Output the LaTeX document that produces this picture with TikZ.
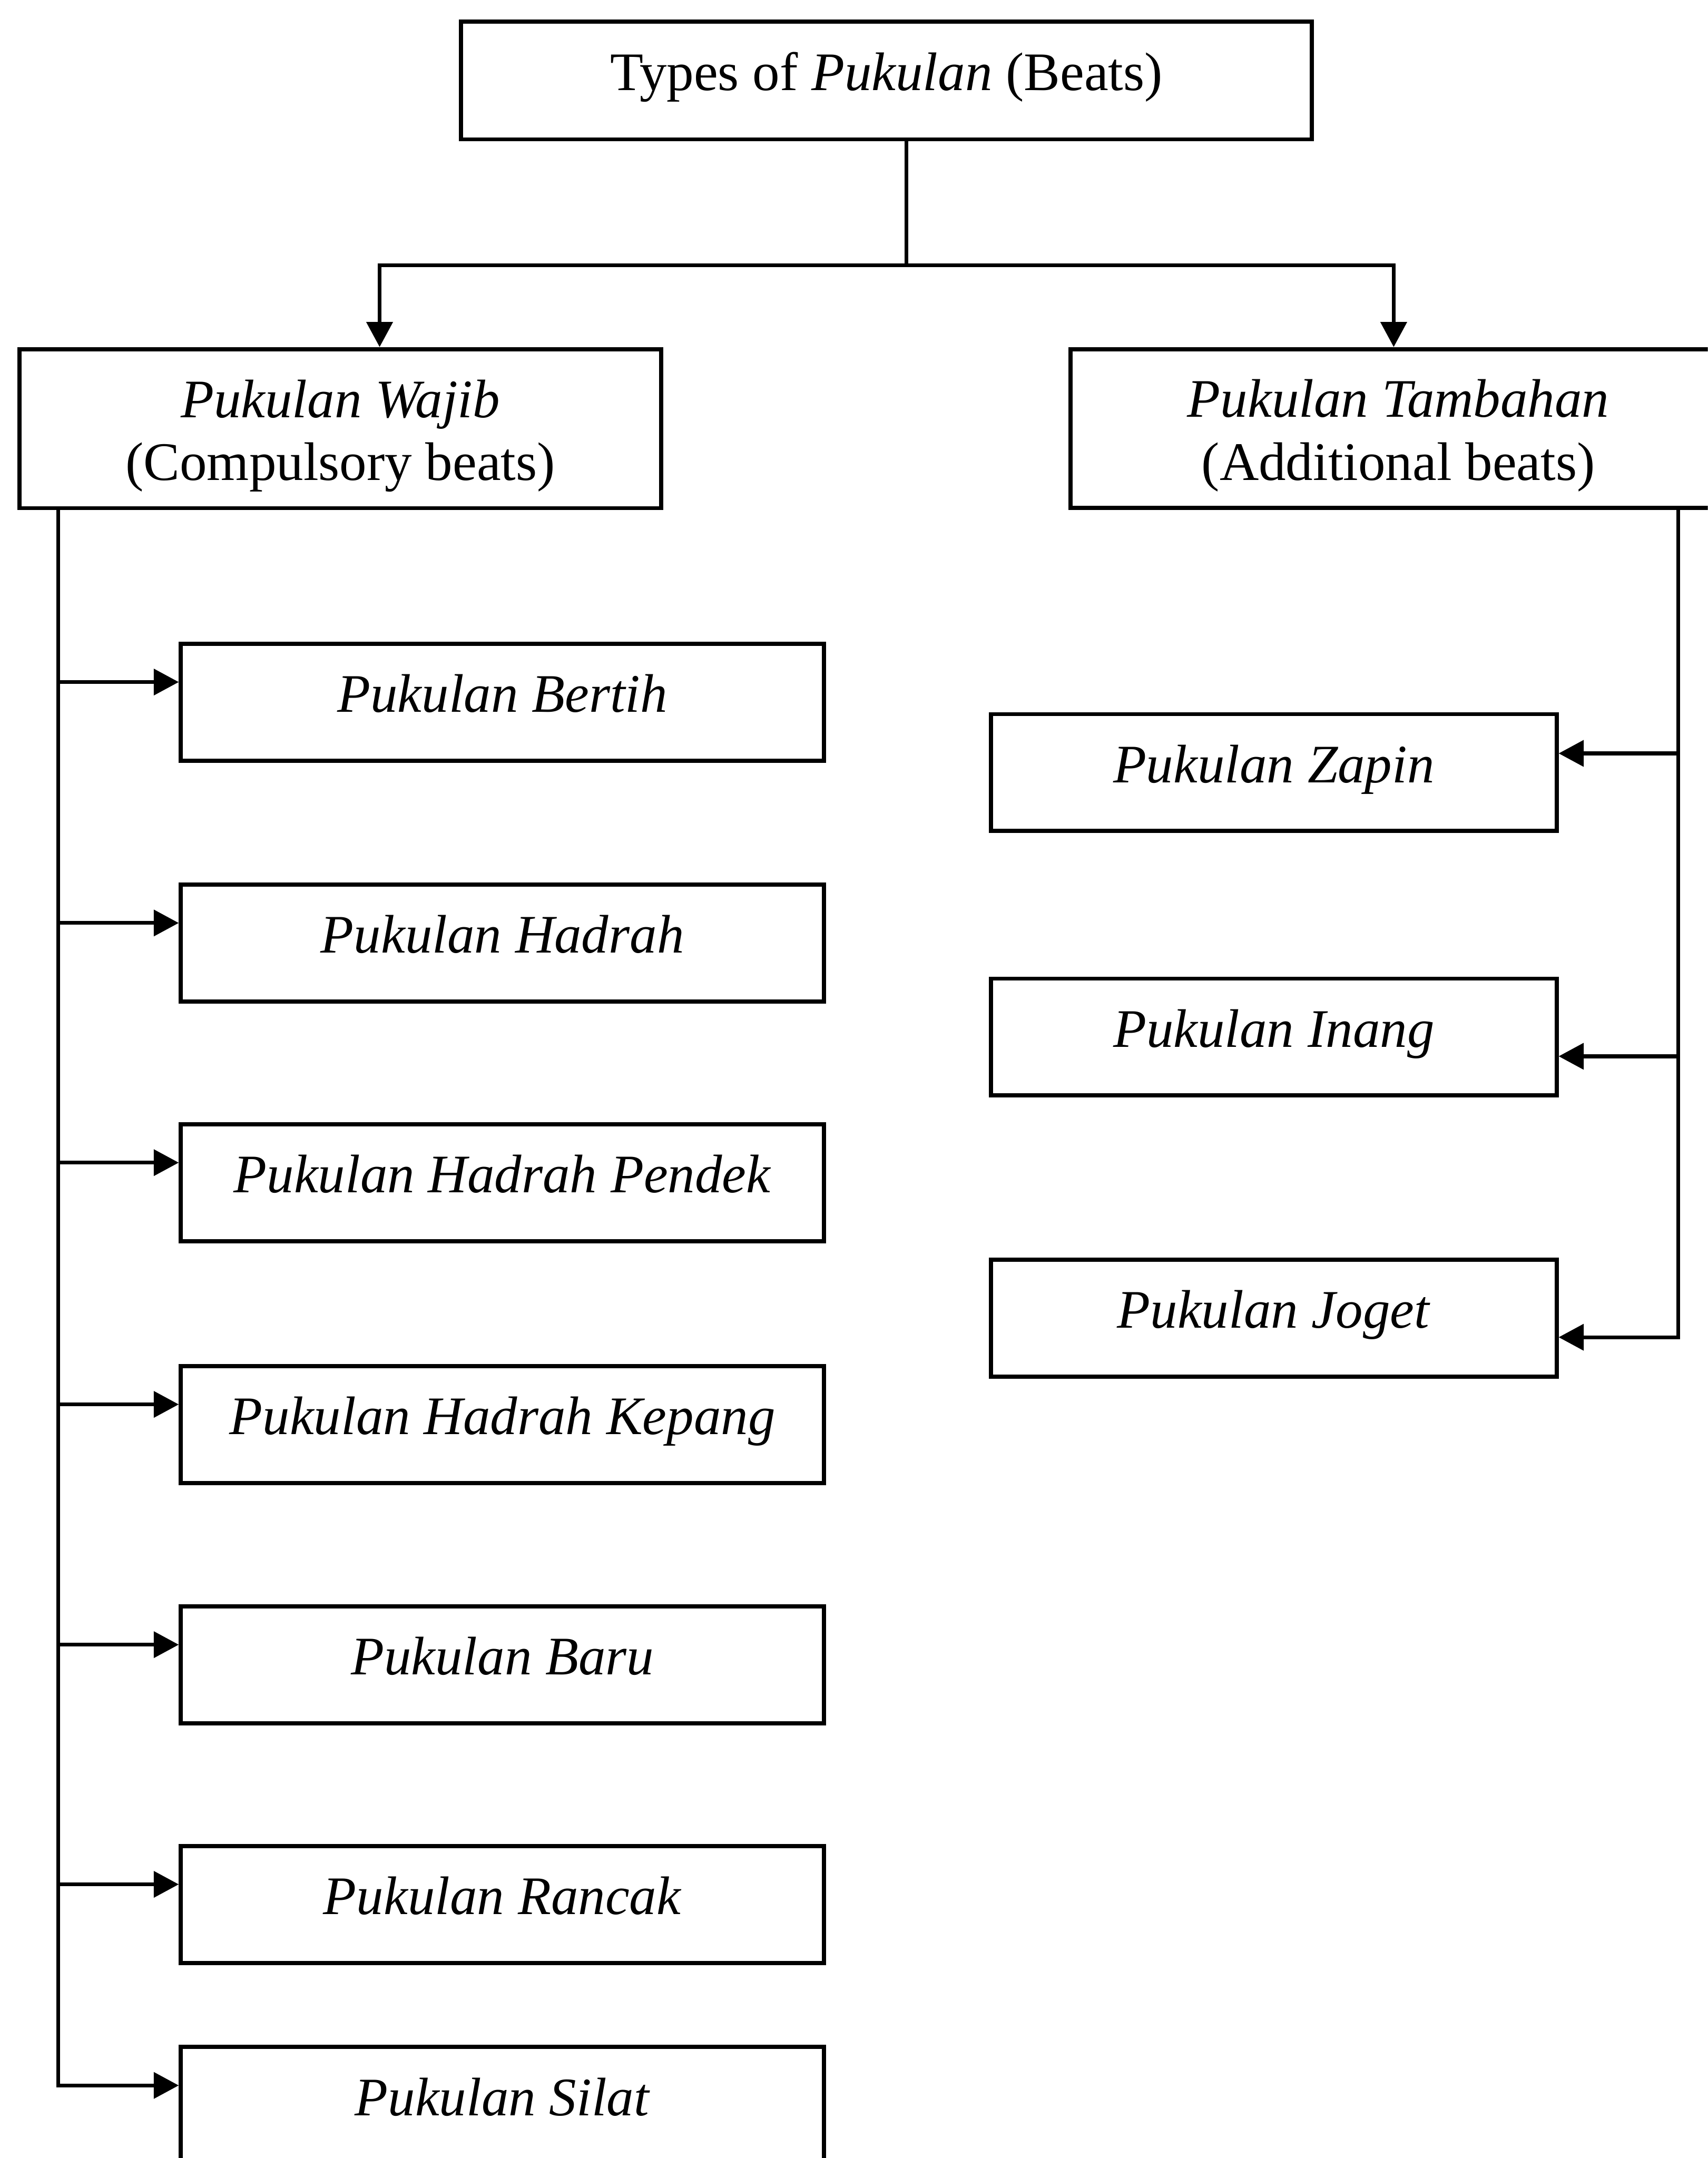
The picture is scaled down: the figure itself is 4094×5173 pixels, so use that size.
\documentclass[tikz,border=0pt]{standalone}
\usepackage{fontspec}
\setmainfont{Liberation Serif}
\usetikzlibrary{arrows.meta}
% two centred lines stacked, baseline on the first line
\newcommand\twoline[2]{\vtop{\halign{\hfil##\hfil\cr #1\cr #2\cr}}}
\begin{document}
\begin{tikzpicture}[x=0.01cm,y=-0.01cm,
  box/.style={draw=black, line width=2.85pt, rectangle, inner sep=0pt,
    font=\fontsize{37}{43}\selectfont, text height=26.6pt, text depth=13pt},
  dbox/.style={box, text height=10pt, text depth=25.4pt},
  lbox/.style={box, minimum width=15.41cm, minimum height=2.8cm},
  rbox/.style={box, minimum width=13.55cm, minimum height=2.8cm},
  conn/.style={line width=2.6pt},
  arr/.style={conn, -{Triangle[length=0.6cm,width=0.62cm]}},
]
\useasboundingbox (0,0) rectangle (4094,5173);
\clip (0,0) rectangle (4094,5173);
\fill[white] (0,0) rectangle (4094,5173);

% root and the two groups
\node[box, minimum width=20.38cm, minimum height=2.82cm] (top) at (2125,193)
  {Types of \textit{Pukulan} (Beats)};
\node[dbox, minimum width=15.38cm, minimum height=3.81cm] (wajib) at (816,1027.5)
  {\twoline{\textit{Pukulan Wajib}}{(Compulsory beats)}};
\node[dbox, minimum width=15.70cm, minimum height=3.80cm] (tamb) at (3352,1027)
  {\twoline{\textit{Pukulan Tambahan}}{(Additional beats)}};

% compulsory beats
\node[lbox] (bertih) at (1204.5,1683)   {\textit{Pukulan Bertih}};
\node[lbox] (hadrah) at (1204.5,2260.5) {\textit{Pukulan Hadrah}};
\node[lbox] (pendek) at (1204.5,2835)   {\textit{Pukulan Hadrah Pendek}};
\node[lbox] (kepang) at (1204.5,3414.5) {\textit{Pukulan Hadrah Kepang}};
\node[lbox] (baru)   at (1204.5,3990.5) {\textit{Pukulan Baru}};
\node[lbox] (rancak) at (1204.5,4565)   {\textit{Pukulan Rancak}};
\node[lbox] (silat)  at (1204.5,5047)   {\textit{Pukulan Silat}};

% additional beats
\node[rbox] (zapin) at (3053.5,1852)   {\textit{Pukulan Zapin}};
\node[rbox] (inang) at (3053.5,2486)   {\textit{Pukulan Inang}};
\node[rbox] (joget) at (3053.5,3159.5) {\textit{Pukulan Joget}};

% split below the root
\coordinate (jn) at (2173,636);
\coordinate (jl) at (910,636);
\coordinate (jr) at (3341,636);
\draw[conn] (top.south -| jn) -- (jn);
\draw[arr] (jn) -| (wajib.north -| jl);
\draw[arr] (jn) -| (tamb.north -| jr);

% left spine
\coordinate (lx) at (140,0);
\foreach \b in {bertih,hadrah,pendek,kepang,baru,rancak,silat}
  \coordinate (\b-in) at ([yshift=0.48cm]\b.west);
\foreach \b in {bertih,hadrah,pendek,kepang,baru,rancak}
  \draw[arr] (\b-in -| lx) -- (\b-in);
\draw[arr] (wajib.south -| lx) |- (silat-in);

% right spine
\coordinate (rx) at (4023,0);
\coordinate (zapin-in) at ([yshift=0.46cm]zapin.east);
\coordinate (inang-in) at ([yshift=-0.46cm]inang.east);
\coordinate (joget-in) at ([yshift=-0.46cm]joget.east);
\draw[arr] (zapin-in -| rx) -- (zapin-in);
\draw[arr] (inang-in -| rx) -- (inang-in);
\draw[arr] (tamb.south -| rx) |- (joget-in);
\end{tikzpicture}
\end{document}
